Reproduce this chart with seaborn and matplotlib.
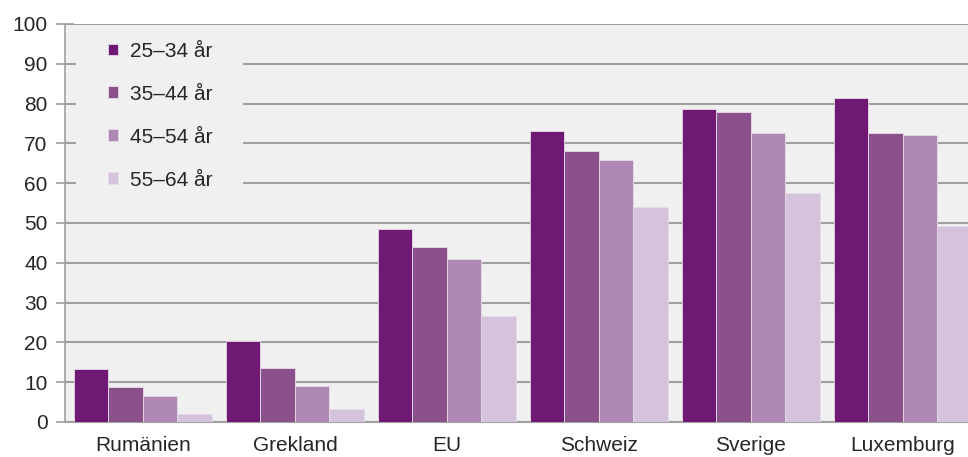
import matplotlib
matplotlib.use("Agg")
import matplotlib.pyplot as plt
from matplotlib.patches import Rectangle
import pandas as pd
import seaborn as sns

# share (%) per country and age group
countries = ["Rumänien", "Grekland", "EU", "Schweiz", "Sverige", "Luxemburg"]
age_groups = ["25–34 år", "35–44 år", "45–54 år", "55–64 år"]
v_25_34 = [13.2, 20.3, 48.5, 73.0, 78.6, 81.4]
v_35_44 = [8.8, 13.5, 44.0, 68.1, 77.8, 72.6]
v_45_54 = [6.5, 9.0, 41.0, 65.7, 72.6, 72.1]
v_55_64 = [2.1, 3.2, 26.6, 54.0, 57.5, 49.3]
colors = ["#6f1874", "#8b518c", "#ae87b2", "#d5c2db"]

rows = []
for grp, vals in zip(age_groups, [v_25_34, v_35_44, v_45_54, v_55_64]):
    for c, v in zip(countries, vals):
        rows.append({"land": c, "ålder": grp, "andel": v})
df = pd.DataFrame(rows)

sns.set_style("white")
plt.rcParams["font.family"] = ["Liberation Sans", "DejaVu Sans"]

fig = plt.figure(figsize=(9.68, 4.57), dpi=100)
ax = fig.add_axes([0.0671, 0.0766, 0.944, 0.871])
ax.set_facecolor("#f0f0f0")

sns.barplot(data=df, x="land", y="andel", hue="ålder", order=countries,
            hue_order=age_groups, palette=colors, saturation=1,
            width=0.908, gap=0, edgecolor="#e6dbe8", linewidth=0.6,
            ax=ax, zorder=3)

ax.set_ylim(0, 100)
ax.set_xlim(-0.513, 5.5)
ax.set_yticks(range(0, 101, 10))
ax.yaxis.grid(True, color="#a0a0a0", linewidth=1.5, zorder=0)
ax.set_axisbelow(True)
ax.set_xlabel(""); ax.set_ylabel("")
ax.tick_params(axis="y", direction="inout", length=13, width=1.2,
               color="#a0a0a0", labelsize=15, pad=6, left=True)
ax.tick_params(axis="x", length=0, labelsize=15, pad=10)
for s in ["top", "right"]:
    ax.spines[s].set_visible(False)
ax.spines["left"].set_color("#a0a0a0")
ax.spines["bottom"].set_color("#a0a0a0")
ax.spines["left"].set_linewidth(1.2)
ax.spines["bottom"].set_linewidth(1.5)

# plain background behind the legend, hiding the gridlines there
ax.add_patch(Rectangle((11 / 914, (422 - 200) / 398), 167 / 914, 170 / 398,
                       transform=ax.transAxes, facecolor="#f0f0f0",
                       edgecolor="none", zorder=2))

leg = ax.legend(loc="upper left", bbox_to_anchor=(43 / 914, 0.955), fontsize=15,
                frameon=False, borderaxespad=0, borderpad=0,
                handlelength=0.5, handleheight=0.5, handletextpad=0.55,
                labelspacing=1.15)
leg.set_zorder(5)

fig.savefig("out.png", dpi=100)
